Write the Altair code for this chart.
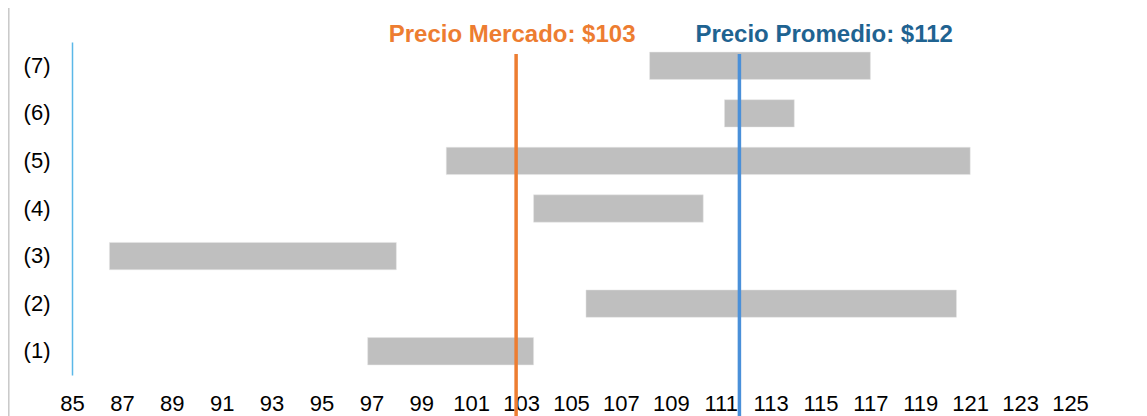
import altair as alt
import pandas as pd

# ---- data ----
labels = ["(1)", "(2)", "(3)", "(4)", "(5)", "(6)", "(7)"]
low = [96.85, 105.6, 86.5, 103.5, 100.0, 111.15, 108.15]
high = [103.5, 120.45, 98.0, 110.3, 121.0, 113.95, 117.0]
market_price = 102.8
average_price = 111.75
market_label = "Precio Mercado: $103"
average_label = "Precio Promedio: $112"
x_ticks = list(range(85, 126, 2))

FONT = "Liberation Sans"

bars_df = pd.DataFrame({"label": labels, "low": low, "high": high})
order = labels[::-1]

x_scale = alt.Scale(domain=[85, 125], nice=False, zero=False)

bars = alt.Chart(bars_df).mark_bar(color="#BFBFBF", stroke="#E6E6E6", strokeWidth=0.5).encode(
    x=alt.X("low:Q", scale=x_scale,
            axis=alt.Axis(values=x_ticks, title=None, domain=False, ticks=False, grid=False,
                          labelFontSize=22, labelFont=FONT, labelColor="#000000",
                          labelPadding=18, labelFlush=False, labelOverlap=False)),
    x2="high:Q",
    y=alt.Y("label:N", sort=order,
            scale=alt.Scale(paddingInner=0.425, paddingOuter=0.2125),
            axis=alt.Axis(title=None, domain=True, domainColor="#5BB8E8", domainWidth=1.5,
                          ticks=False, grid=False, labelFontSize=22, labelFont=FONT,
                          labelColor="#000000", labelPadding=22)),
)

lines_df = pd.DataFrame({
    "price": [market_price, average_price],
    "color": ["#ED7D31", "#4A90D9"],
})

lines = alt.Chart(lines_df).mark_rule(strokeWidth=3.5).encode(
    x=alt.X("price:Q", scale=x_scale),
    y=alt.value(12),
    y2=alt.value(380),
    color=alt.Color("color:N", scale=None),
)

text_df = pd.DataFrame({
    "price": [market_price, average_price],
    "text": [market_label, average_label],
    "color": ["#ED7D31", "#1F6391"],
})

market_text = alt.Chart(text_df.iloc[[0]]).mark_text(
    font=FONT, fontSize=24, fontWeight="bold", align="center", baseline="alphabetic", dx=-4
).encode(
    x=alt.X("price:Q", scale=x_scale),
    y=alt.value(0),
    text="text:N",
    color=alt.Color("color:N", scale=None),
)

average_text = alt.Chart(text_df.iloc[[1]]).mark_text(
    font=FONT, fontSize=24, fontWeight="bold", align="left", baseline="alphabetic", dx=-44
).encode(
    x=alt.X("price:Q", scale=x_scale),
    y=alt.value(0),
    text="text:N",
    color=alt.Color("color:N", scale=None),
)

frame = alt.Chart(pd.DataFrame({"k": [0]})).mark_rule(color="#C8C8C8", strokeWidth=1.5).encode(
    x=alt.value(-63.2),
    y=alt.value(-34),
    y2=alt.value(380),
)

chart = alt.layer(frame, bars, lines, market_text, average_text).properties(
    width=998,
    height=333,
    background="white",
    autosize=alt.AutoSizeParams(type="none"),
    padding={"left": 64, "top": 34, "right": 69, "bottom": 41},
).configure_view(strokeWidth=0, stroke="transparent")

chart.save("out.html", embed_options={"renderer": "svg", "actions": False})
